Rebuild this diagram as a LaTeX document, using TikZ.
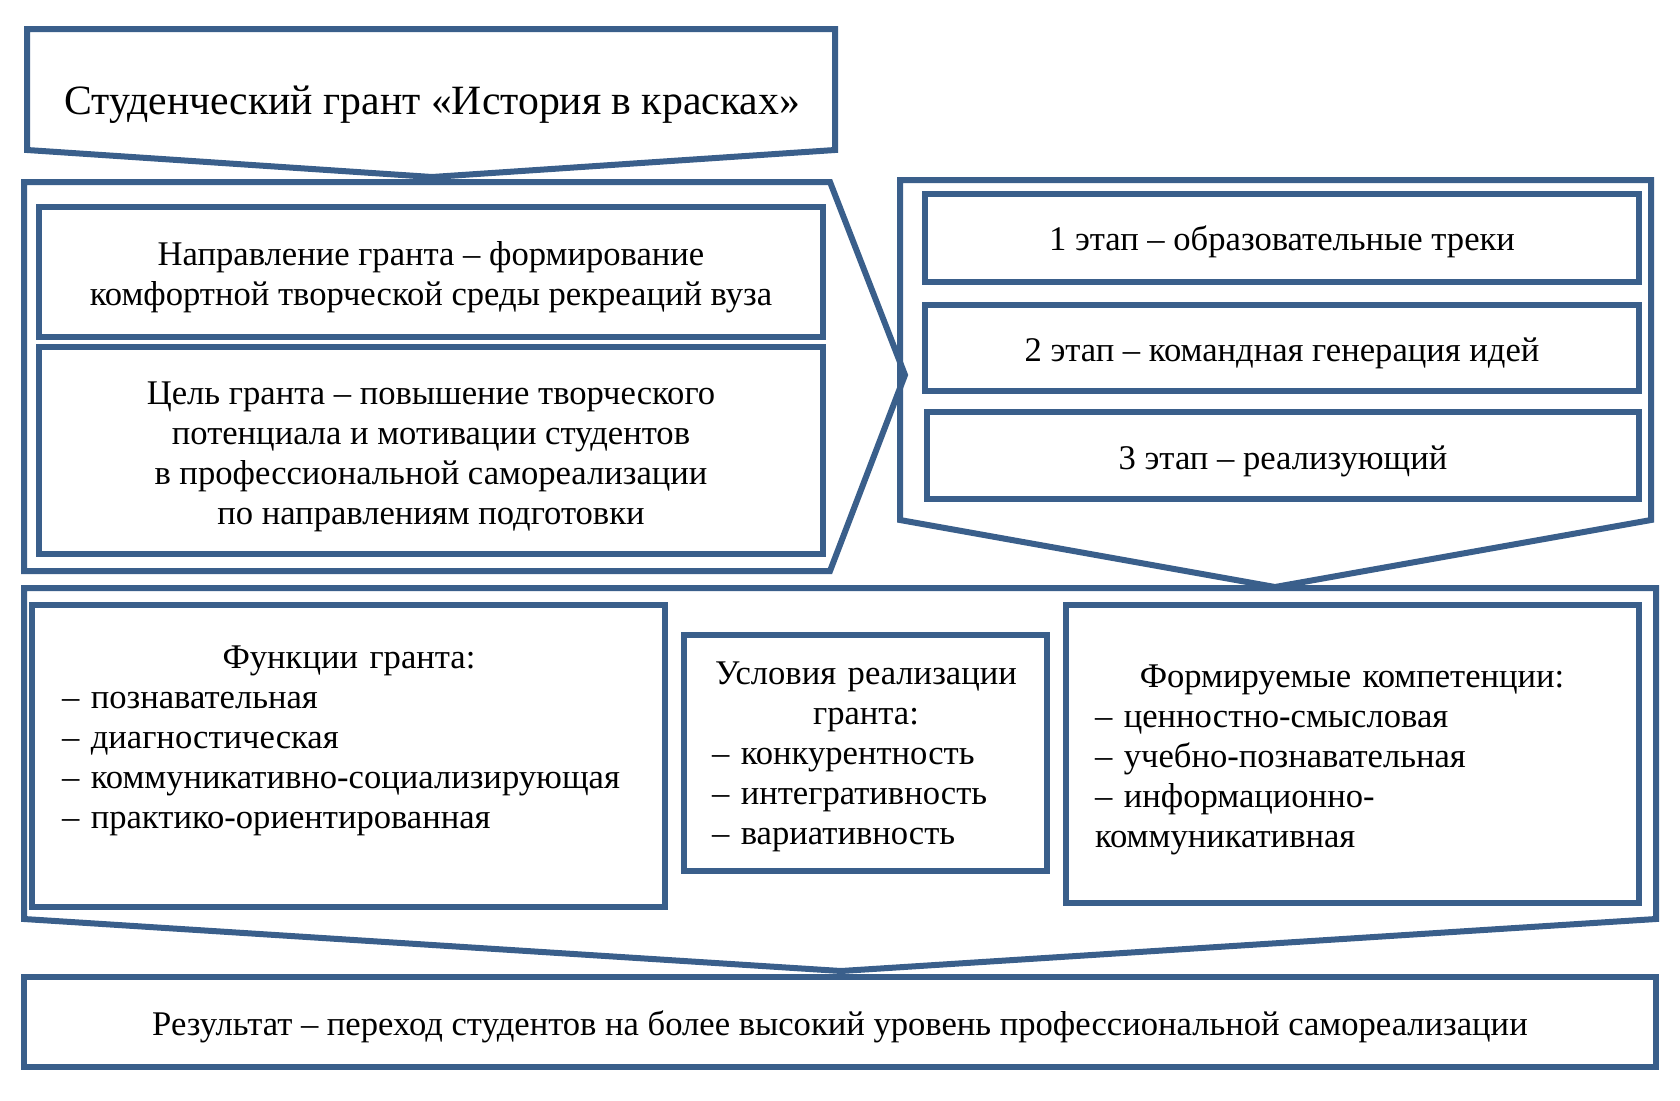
\documentclass[tikz,border=0pt]{standalone}
\usepackage{fontspec}
\setmainfont{Liberation Serif}
\definecolor{bl}{HTML}{3A5F8B}
\newcommand{\bodyfont}{\fontsize{34.6}{40}\selectfont}
\newcommand{\titlefont}{\fontsize{41.7}{48}\selectfont}
\begin{document}
\begin{tikzpicture}[x=1pt,y=-1pt]
\tikzset{
  box/.style={draw=bl, line width=6pt, inner sep=0pt},
  outline/.style={draw=bl, line width=6pt, line join=miter},
  txt/.style={font=\bodyfont, inner sep=0pt, align=center},
  listtxt/.style={font=\bodyfont, inner sep=0pt}
}
\useasboundingbox[fill=white] (0,0) rectangle (1680,1100);
% outlines
\draw[outline] (27,29) -- (835,29) -- (835,150) -- (432,177) -- (27,150) -- cycle;
\draw[outline] (24,182) -- (830,182) -- (905,375) -- (830,571) -- (24,571) -- cycle;
\draw[outline] (900,180) -- (1651,180) -- (1651,520) -- (1275,587) -- (900,520) -- cycle;
\draw[outline] (24,588) -- (1656,588) -- (1656,919) -- (841,971) -- (24,919) -- cycle;
% title
\node[font=\titlefont, inner sep=0pt] (title) at (432,105) {Студенческий грант «История в красках»};
% left boxes
\node[box, minimum width=784, minimum height=130] (dir) at (431,272) {};
\node[txt] (dirtxt) at (431,277)
  {Направление гранта – формирование\\комфортной творческой среды рекреаций вуза};
\node[box, minimum width=784, minimum height=207] (goal) at (431,450.5) {};
\node[txt] (goaltxt) at (431,457)
  {Цель гранта – повышение творческого\\потенциала и мотивации студентов\\в профессиональной самореализации\\по направлениям подготовки};
% stages
\node[box, minimum width=714, minimum height=88] (s1) at (1282,238) {};
\node[txt] (s1txt) at (1282,242) {1 этап – образовательные треки};
\node[box, minimum width=714, minimum height=86] (s2) at (1282,348) {};
\node[txt] (s2txt) at (1282,353) {2 этап – командная генерация идей};
\node[box, minimum width=712, minimum height=87] (s3) at (1283,455.5) {};
\node[txt] (s3txt) at (1283,461) {3 этап – реализующий};
% bottom boxes
\node[box, minimum width=633, minimum height=302] (func) at (348.5,756) {};
\node[box, minimum width=363, minimum height=236] (cond) at (865.5,753) {};
\node[box, minimum width=573, minimum height=298] (comp) at (1352.5,754) {};
\node[listtxt, text width=574] (functxt) at (349,741)
  {{\centering Функции гранта:\par}\raggedright
   – познавательная\\
   – диагностическая\\
   – коммуникативно-социализирующая\\
   – практико-ориентированная\par};
\node[listtxt, text width=308] (condtxt) at (866,757)
  {{\centering Условия реализации\\гранта:\par}\raggedright
   – конкурентность\\
   – интегративность\\
   – вариативность\par};
\node[listtxt, text width=514] (comptxt) at (1352,760)
  {{\centering Формируемые компетенции:\par}\raggedright
   – ценностно-смысловая\\
   – учебно-познавательная\\
   – информационно-\\
   коммуникативная\par};
% result
\node[box, minimum width=1632, minimum height=90] (res) at (840,1022) {};
\node[txt] (restxt) at (840,1027)
  {Результат – переход студентов на более высокий уровень профессиональной самореализации};
\end{tikzpicture}
\end{document}
